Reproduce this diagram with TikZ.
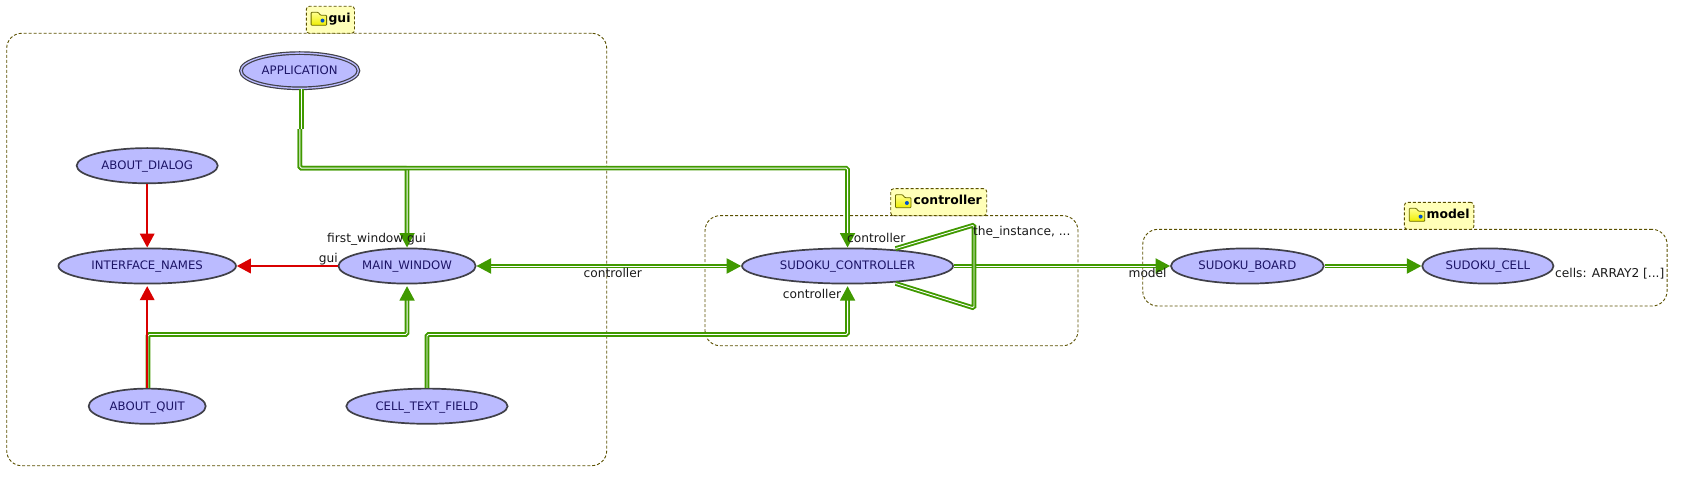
\documentclass[tikz,border=0pt]{standalone}
\usepackage{fontspec}
\setmainfont{DejaVu Sans}
\usetikzlibrary{shapes.geometric, arrows.meta, positioning}

\definecolor{classblue}{HTML}{BBBBFF}
\definecolor{classtext}{HTML}{1C1466}
\definecolor{classline}{HTML}{404048}
\definecolor{linkgreen}{HTML}{409900}
\definecolor{linkred}{HTML}{D90000}
\definecolor{clusterline}{HTML}{5A5000}
\definecolor{tagyellow}{HTML}{FFFFB8}
\definecolor{folderyellow}{HTML}{EEEE00}

\begin{document}
\begin{tikzpicture}[x=1pt, y=1pt, node distance=100pt]

% Styles
\tikzset{
    classnode/.style={ellipse, draw=classline, fill=classblue, line width=1.7pt, text=classtext, inner sep=0pt, outer sep=0.85pt, minimum height=35.2pt, text height=8pt, text depth=0pt, font=\fontsize{11.7pt}{14pt}\selectfont},
    rootnode/.style={classnode, line width=1.2pt, double=classblue, double distance=1.3pt},
    clusterbox/.style={rectangle, draw=clusterline, line width=0.9pt, dash pattern=on 3pt off 2pt, rounded corners=15pt, inner sep=0pt, outer sep=0pt},
    tagbox/.style={rectangle, draw=clusterline, line width=0.9pt, dash pattern=on 3pt off 2pt, fill=tagyellow, rounded corners=3pt, inner sep=0pt, outer sep=0pt, minimum height=27pt, text height=9.5pt, text depth=4pt, font=\fontsize{12.4pt}{14pt}\selectfont\bfseries},
    edgelabel/.style={inner sep=0pt, anchor=base west, text=black!90, font=\fontsize{12.2pt}{14pt}\selectfont},
    inherit/.style={-{Triangle[length=14pt, width=14.5pt]}, draw=linkred, line width=1.9pt},
    client/.style={draw=linkgreen, line width=1.9pt, double=white, double distance=0.9pt, rounded corners=1.5pt},
    clientarrow/.style={client, -{Triangle[length=14.5pt, width=15pt]}},
    folder/.pic={
        \draw [draw=black!55!folderyellow, line width=0.8pt, top color=yellow!45, bottom color=folderyellow, rounded corners=0.8pt] (0,-5.5) -- (0,7.5) -- (7,7.5) -- (9.5,4.5) -- (15.5,4.5) -- (15.5,-5.5) -- cycle;
        \fill [blue!60!cyan!80!black] (11.4,-0.8) circle (2pt);
    }
}

% Clusters
\node (guiCluster) [clusterbox, minimum width=600pt, minimum height=432.4pt] at (306.7,-249.5) {};
\node (controllerCluster) [clusterbox, minimum width=373pt, minimum height=130pt] at (891.5,-280.7) {};
\node (modelCluster) [clusterbox, minimum width=524.3pt, minimum height=76.7pt] at (1404.9,-267.7) {};
\node (guiTag) [tagbox, minimum width=48.2pt, above=0pt of guiCluster, xshift=23.7pt] {\hspace{18.3pt}gui};
\node (controllerTag) [tagbox, minimum width=96pt, above=0pt of controllerCluster, xshift=47.2pt] {\hspace{18pt}controller};
\node (modelTag) [tagbox, minimum width=69.4pt, above=0pt of modelCluster, xshift=34.2pt] {\hspace{18pt}model};
\pic at ([xshift=4.8pt]guiTag.west) {folder};
\pic at ([xshift=4.8pt]controllerTag.west) {folder};
\pic at ([xshift=4.8pt]modelTag.west) {folder};

% Nodes
\node (interfaceNames) [classnode, minimum width=177.5pt] at (147.2,-266) {INTERFACE\_NAMES};
\node (mainWindow) [classnode, minimum width=137.2pt, right=100.8pt of interfaceNames] {MAIN\_WINDOW};
\node (sudokuController) [classnode, minimum width=211pt, right=264.7pt of mainWindow] {SUDOKU\_CONTROLLER};
\node (sudokuBoard) [classnode, minimum width=152.8pt, right=216.2pt of sudokuController] {SUDOKU\_BOARD};
\node (sudokuCell) [classnode, minimum width=131.2pt, right=96.8pt of sudokuBoard] {SUDOKU\_CELL};
\node (aboutDialog) [classnode, minimum width=141.1pt, above=63.4pt of interfaceNames] {ABOUT\_DIALOG};
\node (aboutQuit) [classnode, minimum width=117pt, below=103.3pt of interfaceNames] {ABOUT\_QUIT};
\node (cellTextField) [classnode, minimum width=161.3pt, below=103.3pt of mainWindow, xshift=19.9pt] {CELL\_TEXT\_FIELD};
\node (application) [rootnode, minimum width=117.5pt, above=158.4pt of mainWindow, xshift=-107.4pt] {APPLICATION};

% Arrows
\coordinate (appBend) at ([xshift=0.2pt, yshift=-40pt]application.south);
\draw [client] ([xshift=1.5pt]application.south) -- ([xshift=1.3pt]appBend);
\draw [clientarrow] (appBend) |- ([yshift=-79pt]application.south -| mainWindow.north) -- (mainWindow.north);
\draw [clientarrow] (appBend) |- ([yshift=-79pt]application.south -| sudokuController.north) -- (sudokuController.north);
\draw [clientarrow] ([xshift=0.8pt]aboutQuit.north) |- ([yshift=-50pt]mainWindow.south) -- ([yshift=-1.7pt]mainWindow.south);
\draw [clientarrow] (cellTextField.north) |- ([yshift=-50pt]sudokuController.south) -- ([yshift=-1.7pt]sudokuController.south);
\draw [clientarrow, {Triangle[length=14.5pt, width=15pt]}-{Triangle[length=14.5pt, width=15pt]}] (mainWindow) -- (sudokuController);
\draw [clientarrow] (sudokuController) -- (sudokuBoard);
\draw [clientarrow] (sudokuBoard) -- (sudokuCell);
\coordinate (loopTop) at (974,-225);
\coordinate (loopBottom) at (974,-308);
\draw [client] ([xshift=48pt, yshift=-1pt]sudokuController.north) -- (loopTop) -- (loopBottom) -- ([xshift=48pt, yshift=1pt]sudokuController.south);
\draw [inherit] (aboutDialog) -- (interfaceNames);
\draw [inherit] (aboutQuit) -- ([yshift=-1.7pt]interfaceNames.south);
\draw [inherit] (mainWindow) -- (interfaceNames);

% Labels
\node (firstWindowLabel) [edgelabel] at (327,-243) {first\_window};
\node (guiTopLabel) [edgelabel] at (407,-242.5) {gui};
\node (guiLeftLabel) [edgelabel] at (318.6,-262.7) {gui};
\node (controllerMidLabel) [edgelabel] at (583.4,-277.3) {controller};
\node (controllerTopLabel) [edgelabel] at (847,-242.3) {controller};
\node (controllerLowLabel) [edgelabel] at (782.7,-298.3) {controller};
\node (instanceLabel) [edgelabel] at (973,-235.7) {the\_instance, ...};
\node (modelLabel) [edgelabel] at (1128.4,-277.3) {model};
\node (cellsLabel) [edgelabel] at (1555,-277.3) {cells: ARRAY2 [...]};

\useasboundingbox (0,0) rectangle (1693,-502);
\end{tikzpicture}
\end{document}
